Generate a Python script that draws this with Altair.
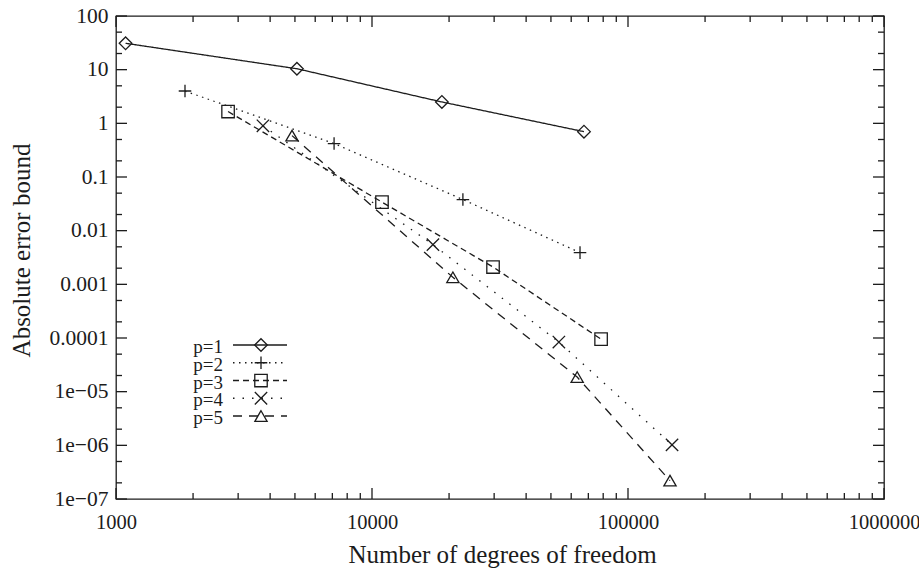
import altair as alt
import pandas as pd

# ---------------- data ----------------
series = ["p=1", "p=2", "p=3", "p=4", "p=5"]

p1_dof = [1090, 5090, 18750, 67300]
p1_err = [31.0, 10.4, 2.5, 0.70]
p2_dof = [1860, 7110, 22650, 64950]
p2_err = [4.0, 0.42, 0.038, 0.0039]
p3_dof = [2740, 10940, 29700, 78500]
p3_err = [1.66, 0.034, 0.0021, 9.5e-5]
p4_dof = [3750, 17300, 53700, 148600]
p4_err = [0.90, 0.0055, 8.4e-5, 1.02e-6]
p5_dof = [4870, 20700, 63300, 145900]
p5_err = [0.59, 0.00135, 1.87e-5, 2.2e-7]

x_major = [1000, 10000, 100000, 1000000]
x_minor = [m * 10 ** e for e in range(3, 6) for m in range(2, 10)]
y_major = [1e-7, 1e-6, 1e-5, 1e-4, 1e-3, 1e-2, 1e-1, 1, 10, 100]
y_labels = ["1e\u221207", "1e\u221206", "1e\u221205", "0.0001", "0.001",
            "0.01", "0.1", "1", "10", "100"]
y_minor = [m * 10.0 ** e for e in range(-7, 2) for m in (2, 5)]

x_title = "Number of degrees of freedom"
y_title = "Absolute error bound"

# ---------------- tables ----------------
rows = []
for s, xs_, ys_ in zip(series,
                       [p1_dof, p2_dof, p3_dof, p4_dof, p5_dof],
                       [p1_err, p2_err, p3_err, p4_err, p5_err]):
    for a, b in zip(xs_, ys_):
        rows.append({"series": s, "dof": a, "err": b})
df = pd.DataFrame(rows)
leg_df = pd.DataFrame({"series": series})
xmaj_df = pd.DataFrame({"dof": x_major})
xmin_df = pd.DataFrame({"dof": x_minor})
ymaj_df = pd.DataFrame({"err": y_major})
ymin_df = pd.DataFrame({"err": y_minor})

# ---------------- styles ----------------
INK = "#1c1c1c"
FONT = "Liberation Serif"
W, H = 768, 483
MAJ, MIN = 11, 6
LW = 1.3

dash_scale = alt.Scale(domain=series,
                       range=[[1, 0], [1.5, 4.5], [6, 4], [1.5, 8], [9, 7]])
shape_scale = alt.Scale(domain=series,
                        range=["diamond", "M-1,0L1,0M0,-1L0,1", "square",
                               "M-1,-1L1,1M-1,1L1,-1", "triangle-up"])
size_scale = alt.Scale(domain=series, range=[160, 150, 100, 110, 190])

xs = alt.Scale(type="log", domain=[1000, 1000000], nice=False)
ys = alt.Scale(type="log", domain=[1e-7, 100], nice=False)

label_expr = "[" + ",".join("'%s'" % t for t in y_labels) + "][round(log(datum.value)/LN10)+7]"

x_label_axis = alt.Axis(orient="bottom", values=x_major, format="d", ticks=False, tickSize=0,
                        domain=False, grid=False, labelFlush=False, labelOverlap=False,
                        labelBaseline="middle", labelPadding=23, labelFontSize=20.5,
                        title=x_title, titleX=386, titleY=55, titleBaseline="middle",
                        titleAlign="center")
y_label_axis = alt.Axis(orient="left", values=y_major, labelExpr=label_expr, ticks=False, tickSize=0,
                        domain=False, grid=False, labelFlush=False, labelOverlap=False,
                        labelAlign="right", labelBaseline="middle", labelPadding=8,
                        labelFontSize=21.5,
                        title=y_title, titleX=-95, titleY=234, titleAngle=-90,
                        titleBaseline="middle", titleAlign="center")

base = alt.Chart(df)

lines = base.mark_line(color=INK, strokeWidth=LW).encode(
    x=alt.X("dof:Q", scale=xs, axis=x_label_axis),
    y=alt.Y("err:Q", scale=ys, axis=y_label_axis),
    strokeDash=alt.StrokeDash("series:N", scale=dash_scale, legend=None),
)

points = base.mark_point(filled=False, color=INK, strokeWidth=LW, opacity=1).encode(
    x=alt.X("dof:Q", scale=xs),
    y=alt.Y("err:Q", scale=ys),
    shape=alt.Shape("series:N", scale=shape_scale, legend=None),
    size=alt.Size("series:N", scale=size_scale, legend=None),
)


def xticks(data, length, top):
    return alt.Chart(data).mark_rule(color=INK, strokeWidth=LW).encode(
        x=alt.X("dof:Q", scale=xs),
        y=alt.value(0 if top else H - length),
        y2=alt.value(length if top else H),
    )


def yticks(data, length, right):
    return alt.Chart(data).mark_rule(color=INK, strokeWidth=LW).encode(
        y=alt.Y("err:Q", scale=ys),
        x=alt.value(W - length if right else 0),
        x2=alt.value(W if right else length),
    )


ticks = [
    xticks(xmaj_df, MAJ, False), xticks(xmaj_df, MAJ, True),
    xticks(xmin_df, MIN, False), xticks(xmin_df, MIN, True),
    yticks(ymaj_df, MAJ, False), yticks(ymaj_df, MAJ, True),
    yticks(ymin_df, MIN, False), yticks(ymin_df, MIN, True),
]

# legend rows, drawn gnuplot-style: label, then line sample with marker
legend_layers = []
ROW0, ROWSTEP = 329, 17.75
for i, s in enumerate(series):
    yv = alt.value(ROW0 + i * ROWSTEP)
    src = alt.Chart(leg_df).transform_filter(alt.datum.series == s)
    legend_layers.append(src.mark_rule(color=INK, strokeWidth=LW).encode(
        x=alt.value(117), x2=alt.value(171), y=yv,
        strokeDash=alt.StrokeDash("series:N", scale=dash_scale, legend=None),
    ))
    legend_layers.append(src.mark_point(filled=False, color=INK, strokeWidth=LW, opacity=1).encode(
        x=alt.value(145), y=yv,
        shape=alt.Shape("series:N", scale=shape_scale, legend=None),
        size=alt.Size("series:N", scale=size_scale, legend=None),
    ))
    legend_layers.append(src.mark_text(align="right", baseline="middle", font=FONT, fontSize=19,
                                       color=INK, dy=2).encode(
        x=alt.value(107), y=yv, text="series:N",
    ))

chart = alt.layer(lines, points, *ticks, *legend_layers).properties(
    width=W, height=H,
    autosize=alt.AutoSizeParams(type="none"),
    padding={"left": 116, "top": 16, "right": 35, "bottom": 69},
    background="white",
).configure_view(
    stroke=INK, strokeWidth=1.3
).configure_axis(
    labelFont=FONT, titleFont=FONT, labelColor=INK, titleColor=INK,
    titleFontSize=25, titleFontWeight="normal",
)

chart.save("out.html", embed_options={"renderer": "svg", "actions": False})
